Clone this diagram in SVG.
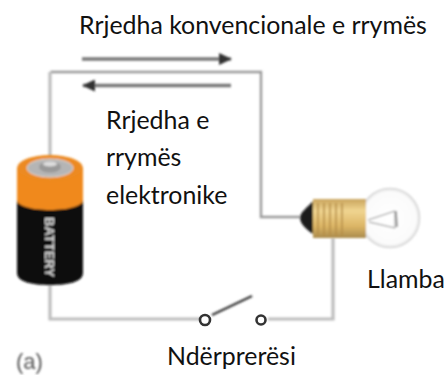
<svg xmlns="http://www.w3.org/2000/svg" width="445" height="375" viewBox="0 0 445 375">
<defs>
<linearGradient id="brass" x1="0" y1="0" x2="0" y2="1"><stop offset="0" stop-color="#c9a45c"/><stop offset=".3" stop-color="#f0d591"/><stop offset=".7" stop-color="#dcb565"/><stop offset="1" stop-color="#a98a4c"/></linearGradient>
<radialGradient id="glass" cx=".5" cy=".5" r=".55"><stop offset="0" stop-color="#ffffff"/><stop offset=".8" stop-color="#fbfbfb"/><stop offset="1" stop-color="#d9d9d9"/></radialGradient>
<filter id="soft" x="-10%" y="-10%" width="120%" height="120%"><feGaussianBlur stdDeviation="0.8"/></filter>
<marker id="head" markerUnits="userSpaceOnUse" markerWidth="14" markerHeight="12" refX="12" refY="6" orient="auto"><path d="M0 0L13 6L0 12z" fill="#333"/></marker>
</defs>
<style>
text{font-family:"Lato","Open Sans",sans-serif;font-size:24.900px;fill:#111}
.wire{fill:none;stroke:#bdbdbd;stroke-width:3.2}
.thin{fill:none;stroke:#999;stroke-width:2.4}
.flow{fill:none;stroke:#777;stroke-width:3.4;marker-end:url(#head)}
.term{fill:#fff;stroke:#333;stroke-width:2.6}
</style>
<g id="connectors" filter="url(#soft)">
<path class="thin" d="M50.500 72H261V217H300"/>
<path class="wire" d="M50 72V160M50 285V319H205M268 319H333V238"/>
<path class="flow" d="M82 59H231"/>
<path class="flow" d="M231 85.500H83"/>
<path d="M212 315L252 296" fill="none" stroke="#333" stroke-width="2.400"/>
</g>
<g id="battery" filter="url(#soft)">
<path d="M17 168V273C17 282 32 285 50 285S83 282 83 273V168z" fill="#0a0a0a"/>
<path d="M17 168V200C17 206 32 210 50 210S83 206 83 200V168z" fill="#f0891c"/>
<ellipse cx="50" cy="168" rx="33" ry="13" fill="#ec8a20"/>
<ellipse cx="50" cy="168" rx="23" ry="9" fill="#b5b5b5" stroke="#ddd" stroke-width="1"/>
<ellipse cx="50" cy="167" rx="11" ry="5.500" fill="#999"/>
<ellipse cx="50" cy="164" rx="7" ry="2.500" fill="#ddd"/>
<text x="0" y="0" transform="translate(45 217) rotate(90)" style="font-family:'Liberation Sans',sans-serif;font-size:13px;font-weight:700;fill:#ddd">BATTERY</text>
</g>
<g id="lamp" filter="url(#soft)">
<circle cx="390" cy="218" r="29.500" fill="url(#glass)" stroke="#d5d5d5" stroke-width="1.500"/>
<path d="M368 220L395 211V228L369 222" fill="none" stroke="#888" stroke-width="1"/>
<path d="M396 211L397 227" fill="none" stroke="#777" stroke-width="1.500"/>
<path d="M313 199H366V238H313z" fill="url(#brass)"/>
<path d="M318 203V236M324 203V236M330 203V236M336 203V236M342 203V236" stroke="#b58d45" stroke-width="1.500" fill="none"/>
<path d="M313 201C307 208 300 212 300 218C300 224 307 230 313 234z" fill="#1c1c1c"/>
</g>
<g id="switch">
<circle class="term" cx="205" cy="320" r="5"/>
<circle class="term" cx="261" cy="320" r="4.500"/>
</g>
<g id="labels">
<text x="79" y="34">Rrjedha konvencionale e rrymës</text>
<text x="106" y="129">Rrjedha e</text>
<text x="106" y="166">rrymës</text>
<text x="106" y="204">elektronike</text>
<text x="367" y="288">Llamba</text>
<text x="167" y="365">Ndërprerësi</text>
<text x="16" y="369" filter="url(#soft)" style="font-family:'Liberation Sans',sans-serif;font-size:22px;fill:#555">(a)</text>
</g>
</svg>
